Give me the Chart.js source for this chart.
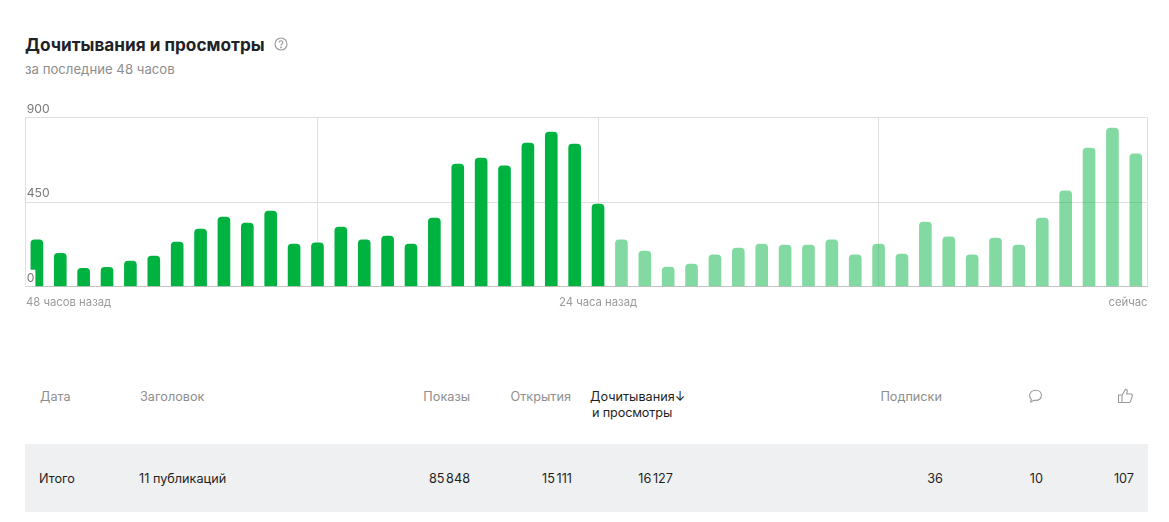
<!DOCTYPE html>
<html lang="ru"><head><meta charset="utf-8">
<script src="https://cdn.jsdelivr.net/npm/chart.js@4"></script>
<style>
html,body{margin:0;padding:0;background:#fff;width:1169px;height:522px;overflow:hidden;font-family:Inter,"Noto Sans",sans-serif}
.t{position:absolute;white-space:nowrap;line-height:1}
#wrap{position:absolute;left:0;top:0;width:1169px;height:330px}
#row{position:absolute;left:25px;top:444px;width:1123px;height:68px;background:#eff0f2}
.h{font-size:12.7px;color:#8e8e8e;top:391px}
.v{font-size:12.7px;color:#1f1f1f;top:473px}
svg{position:absolute}
canvas{display:block}
</style></head><body>
<div class="t" id="title" style="left:25px;top:36px;font-size:17.2px;font-weight:700;color:#1f2328"></div>
<svg style="left:274px;top:37px" width="14" height="14" viewBox="0 0 14 14" fill="none" stroke="#999" stroke-width="1.1"><circle cx="7" cy="7" r="6"/><path d="M5.2 5.6a1.8 1.8 0 1 1 2.8 1.500c-.7.4-1 .8-1 1.500"/><circle cx="7" cy="10.400" r=".4"/></svg>
<div class="t" id="sub" style="left:25px;top:63px;font-size:13.2px;color:#8e8e8e"></div>
<div id="wrap"><canvas id="c" width="1169" height="320" style="width:1169px;height:320px"></canvas></div>
<div id="row"></div>
<div id="table"></div>
<svg style="left:1028px;top:389px" width="15" height="15" viewBox="0 0 15 15" fill="none" stroke="#999" stroke-width="1.1"><path d="M7.800 1.200C4.500 1.200 1.600 3.400 1.600 6.500c0 1.500.6 2.700 1.700 3.600l-.5 2.900 3.200-1.800c.6.100 1.200.2 1.800.2 3.300 0 5.600-2.100 5.600-5.100S11 1.200 7.800 1.200z"/></svg>
<svg style="left:1117px;top:388px" width="17" height="16" viewBox="0 0 17 16" fill="none" stroke="#999" stroke-width="1.1"><path d="M5 7h-3.500v7.500H5zM5 7.200 8.500 1.200c1.300 0 2 .9 1.700 2.200L9.700 6h4.300c1 0 1.600 1 1.300 1.900l-1.700 5.500c-.2.700-.8 1.100-1.500 1.100H5"/></svg>
<script>
const titleText = "Дочитывания и просмотры";
const subtitleText = "за последние 48 часов";
const earlierHours = [248,177,97,102,136,162,237,306,370,338,402,226,232,317,248,269,226,365,652,684,642,764,823,759,439];
const recentHours = [248,189,104,120,168,205,226,221,221,248,168,226,173,343,264,168,258,221,365,509,737,844,706];
const yTicks = [0,450,900];
const xLabelLeft = "48 часов назад";
const xLabelMiddle = "24 часа назад";
const xLabelRight = "сейчас";
const headerLabels = ["Дата","Заголовок","Показы","Открытия","Подписки"];
const sortedHeader = ["Дочитывания↓","и просмотры"];
const totalLabels = ["Итого","11 публикаций"];
const totalValues = ["85 848","15 111","16 127","36","10","107"];

document.getElementById('title').textContent = titleText;
document.getElementById('sub').textContent = subtitleText;
const tb = document.getElementById('table');
function put(text, cls, side, px, extra){
  const d = document.createElement('div');
  d.className = 't ' + cls; d.textContent = text;
  d.style[side] = (side === 'right' ? 1169 - px : px) + 'px';
  if (extra) d.style.cssText += extra;
  tb.appendChild(d);
}
put(headerLabels[0],'h','left',40);
put(headerLabels[1],'h','left',140);
put(headerLabels[2],'h','right',470);
put(headerLabels[3],'h','right',571);
put(headerLabels[4],'h','right',942);
put(sortedHeader[0],'h','left',590,'color:#1f1f1f');
put(sortedHeader[1],'h','left',592,'color:#1f1f1f;top:407px;letter-spacing:-.15px');
put(totalLabels[0],'v','left',39);
put(totalLabels[1],'v','left',139);
[470,572,673,943,1043,1134].forEach((x,i)=>put(totalValues[i],'v','right',x,'word-spacing:-2px'));

const values = earlierHours.concat(recentHours);
const categories = values.map((_,i)=>String(48-i));
const gridAt = [12,24,36];
const gridColor = '#dfdfdf';
const labelFont = {family:'Inter,"Noto Sans",sans-serif', size:12.2};
const axisNoteFont = '11.3px Inter,"Noto Sans",sans-serif';

const frame = {
  id:'frame',
  beforeDatasetsDraw(ch){
    const a = ch.chartArea, g = ch.ctx, x = Math.floor(a.right) + 0.5;
    g.save(); g.strokeStyle = gridColor; g.lineWidth = 1;
    g.beginPath();
    g.moveTo(x, a.top); g.lineTo(x, a.bottom);
    g.stroke(); g.restore();
  },
  afterDraw(ch){
    const a = ch.chartArea, g = ch.ctx, y = a.bottom + 16;
    g.save(); g.fillStyle = '#9a9a9a'; g.textBaseline = 'middle';
    g.font = axisNoteFont;
    g.textAlign = 'left'; g.fillText(xLabelLeft, a.left + 0.8, y);
    g.textAlign = 'center'; g.fillText(xLabelMiddle, ch.scales.x.getPixelForValue(24), y);
    g.textAlign = 'right'; g.fillText(xLabelRight, a.right, y);
    g.restore();
  }
};

new Chart(document.getElementById('c'), {
  type:'bar',
  data:{labels:categories, datasets:[{
    data:values,
    backgroundColor:ctx=>ctx.dataIndex < earlierHours.length ? '#00b341' : 'rgba(0,179,65,0.49)',
    barThickness:12,
    borderRadius:{topLeft:4,topRight:4,bottomLeft:0,bottomRight:0},
    borderSkipped:false
  }]},
  options:{
    responsive:false, animation:false, devicePixelRatio:1,
    layout:{padding:{left:25.2,right:21.5,top:117.5,bottom:33.5}},
    plugins:{legend:{display:false},tooltip:{enabled:false}},
    scales:{
      x:{
        offset:true,
        grid:{offset:false, drawTicks:false, color:ctx=>gridAt.includes(ctx.index)?gridColor:'transparent'},
        border:{display:true,color:'#c4c4c4'},
        ticks:{display:false,autoSkip:false}
      },
      y:{
        min:0,max:900,
        afterBuildTicks(s){s.ticks = yTicks.map(v=>({value:v}));},
        afterFit(s){s.width = 0;},
        grid:{drawTicks:false,color:gridColor},
        border:{display:true,color:gridColor},
        ticks:{
          mirror:true,padding:1.5,labelOffset:-8.5,z:1,
          color:'#7a7a7a',font:labelFont,
          showLabelBackdrop:true,
          backdropColor:c=>c.tick.value===0?'#ffffff':'transparent',
          backdropPadding:1
        }
      }
    }
  },
  plugins:[frame]
});
</script>
</body></html>
